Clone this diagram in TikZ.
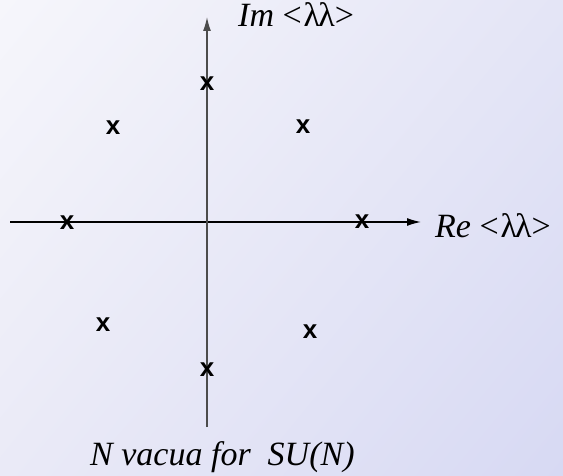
\documentclass[tikz,border=0pt]{standalone}
\usepackage{xcolor}
\usepackage{fontspec}
\setmainfont{Liberation Serif}
\newfontfamily\vacsans{Liberation Sans}
\usepackage{tikz}
\usetikzlibrary{arrows.meta,shadings}

\newcommand{\vacfont}{\vacsans\bfseries\fontsize{26}{26}\selectfont}
\newcommand{\axisfont}{\fontsize{34}{34}\selectfont}

\definecolor{bgtl}{RGB}{246,246,251}
\definecolor{bgtr}{RGB}{228,229,246}
\definecolor{bgbl}{RGB}{234,234,247}
\definecolor{bgbr}{RGB}{215,217,243}

\begin{document}
\begin{tikzpicture}[x=1pt,y=-1pt,
    vac/.style={font=\vacfont, inner sep=0pt},
    axislabel/.style={font=\axisfont, inner sep=0pt, anchor=base west},
    axis/.style={line width=1.4pt, -{Latex[length=14pt,width=8pt]}}]
    \shade[upper left=bgtl, upper right=bgtr, lower left=bgbl, lower right=bgbr] (0,0) rectangle (563,476);
    \useasboundingbox (0,0) rectangle (563,476);
    % axes
    \coordinate (xl) at (10,222);
    \coordinate (xr) at (421,222);
    \coordinate (yb) at (207,427);
    \coordinate (yt) at (207,17);
    \draw[axis] (xl) -- (xr);
    \draw[axis, black!70] (yb) -- (yt);
    \node[axislabel] (im) at (238,27) {\itshape Im \upshape <\kern2pt λ\kern-2pt λ>};
    \node[axislabel] (re) at (435,237) {\itshape Re \upshape <\kern2pt λ\kern-2pt λ>};
    % vacua
    \node[vac] (v1) at (207,84) {x};
    \node[vac] (v2) at (303,127) {x};
    \node[vac] (v3) at (362,222) {x};
    \node[vac] (v4) at (310,332) {x};
    \node[vac] (v5) at (207,370) {x};
    \node[vac] (v6) at (103,325) {x};
    \node[vac] (v7) at (67,223) {x};
    \node[vac] (v8) at (113,128) {x};
    \node[axislabel, font=\axisfont\itshape] (cap) at (90,465) {N vacua for~ SU(N)};
\end{tikzpicture}
\end{document}
